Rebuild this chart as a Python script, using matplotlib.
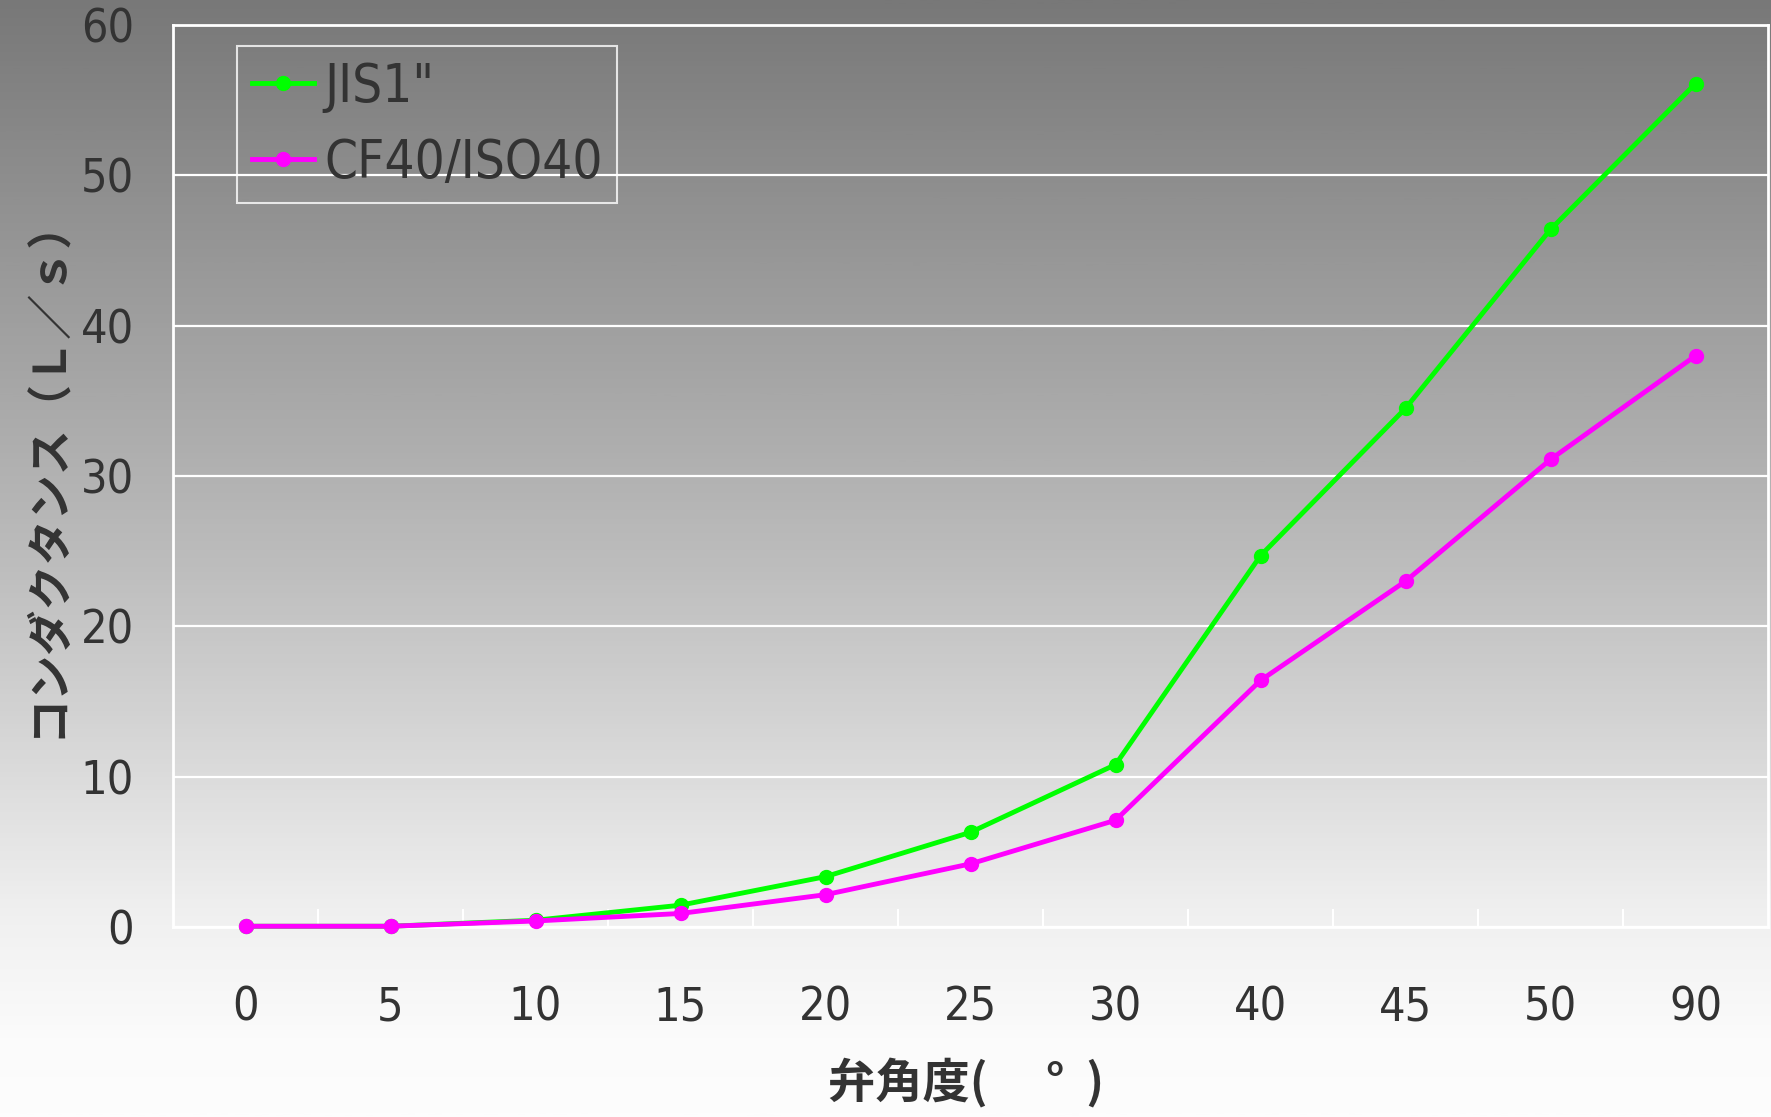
import numpy as np
import matplotlib
matplotlib.use("Agg")
import matplotlib.pyplot as plt
from matplotlib import font_manager as fm
from matplotlib.colors import LinearSegmentedColormap

angles = ["0", "5", "10", "15", "20", "25", "30", "40", "45", "50", "90"]
jis_values = [0.05, 0.05, 0.45, 1.45, 3.35, 6.3, 10.8, 24.7, 34.5, 46.4, 56.1]
cf_values = [0.05, 0.05, 0.4, 0.9, 2.15, 4.2, 7.1, 16.4, 23.0, 31.1, 38.0]
series_labels = ['JIS1"', "CF40/ISO40"]
y_ticks = [0, 10, 20, 30, 40, 50, 60]

TXT = "#333333"

# pick a condensed sans font if one is installed
entries = fm.fontManager.ttflist
names = {f.name for f in entries}
stretch = "normal"
if "Liberation Sans Narrow" in names:
    base = "Liberation Sans Narrow"
elif any(f.name == "DejaVu Sans" and str(f.stretch) in ("condensed", "semi-condensed", "75", "87.5")
         for f in entries):
    base = "DejaVu Sans"
    stretch = "condensed"
else:
    base = "Liberation Sans"
NUM_FONT = [base, "Noto Sans CJK JP", "DejaVu Sans"]
JP_FONT = ["Noto Sans CJK JP", base, "DejaVu Sans"]
NUM_SIZE = 37 if base == "Liberation Sans Narrow" else 33.5
LEG_SIZE = 42 if base == "Liberation Sans Narrow" else 38

fig = plt.figure(figsize=(17.71, 11.17), dpi=100)

# background gradient
bg = fig.add_axes([0, 0, 1, 1], zorder=-10)
grad = np.linspace(0, 1, 1024).reshape(-1, 1)
cmap = LinearSegmentedColormap.from_list(
    "g", [(0.0, "#787878"), (0.5, "#bcbcbc"), (0.82, "#f0f0f0"), (0.93, "#fbfbfb"), (1.0, "#fdfdfd")])
bg.imshow(grad, aspect="auto", cmap=cmap, extent=[0, 1, 0, 1], origin="upper")
bg.set_axis_off()

W, H = 1771, 1117
L, R, T, B = 173, 1768, 25, 927
ax = fig.add_axes([L / W, 1 - B / H, (R - L) / W, (B - T) / H])
ax.patch.set_alpha(0)

x = np.arange(len(angles))
ax.plot(x, jis_values, color="#00ff00", lw=3.5, marker="o", ms=10,
        label=series_labels[0], zorder=3, clip_on=False)
ax.plot(x, cf_values, color="#ff00ff", lw=3.5, marker="o", ms=10,
        label=series_labels[1], zorder=4, clip_on=False)

ax.set_xlim(-0.5, len(angles) - 0.5)
ax.set_ylim(0, 60)
ax.set_yticks(y_ticks)
ax.set_yticklabels([str(v) for v in y_ticks], family=NUM_FONT, fontsize=NUM_SIZE,
                   color=TXT, fontstretch=stretch)
ax.set_xticks(x)
ax.set_xticklabels(angles, family=NUM_FONT, fontsize=NUM_SIZE, color=TXT, fontstretch=stretch)
ax.set_xticks(np.arange(0.5, len(angles) - 1, 1), minor=True)
ax.tick_params(axis="x", which="major", length=0, pad=42)
ax.tick_params(axis="x", which="minor", direction="in", length=13, width=1.5, color="white")
ax.tick_params(axis="y", which="both", length=0, pad=28)

ax.yaxis.grid(True, color="white", lw=1.6)
ax.set_axisbelow(True)
for s in ax.spines.values():
    s.set_color("white")
    s.set_linewidth(2.0)

ax.set_ylabel("コンダクタンス（Ｌ／ｓ）", family=JP_FONT, fontsize=32.5, color=TXT,
              fontweight="bold")
ax.yaxis.set_label_coords(-(L - 70) / (R - L), 0.51)
ax.set_xlabel("弁角度(　 °  )", family=JP_FONT, fontsize=34, color=TXT, fontweight="bold")
ax.xaxis.set_label_coords(0.497, -(1058 - B) / (B - T))

leg = ax.legend(loc="upper left", bbox_to_anchor=((237 - L) / (R - L), 1 - (46 - T) / (B - T)),
                prop={"family": NUM_FONT, "size": LEG_SIZE, "stretch": stretch},
                frameon=True, fancybox=False,
                handlelength=1.17, handletextpad=0.2, borderpad=0.28, labelspacing=0.45,
                borderaxespad=0)
leg.get_frame().set_facecolor("none")
leg.get_frame().set_edgecolor("white")
leg.get_frame().set_linewidth(1.5)
for t in leg.get_texts():
    t.set_color(TXT)

fig.savefig("out.png", dpi=100)
